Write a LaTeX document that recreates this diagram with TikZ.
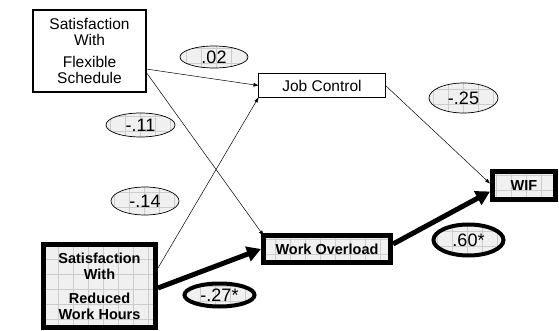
\documentclass[tikz,border=0pt]{standalone}
\usepackage{fontspec}
\setmainfont{Liberation Sans}
\usetikzlibrary{arrows.meta,shapes.geometric,calc}

\tikzset{
  gridfill/.style={fill=gray!12,
    path picture={\draw[gray!40,line width=0.4pt]
      ([xshift=-2pt,yshift=-2pt]path picture bounding box.south west) grid[step=15pt]
      ([xshift=2pt,yshift=2pt]path picture bounding box.north east);}},
  plainbox/.style={draw,line width=1.6pt,fill=white,inner sep=0pt,outer sep=0pt,align=center,font=\fontsize{15.5}{16}\selectfont},
  heavybox/.style={draw,line width=5pt,gridfill,inner sep=0pt,outer sep=0pt,align=center,font=\fontsize{14.5}{16}\selectfont\bfseries},
  coef/.style={ellipse,draw,line width=0.7pt,gridfill,inner sep=0pt,outer sep=0pt,font=\fontsize{18}{20}\selectfont},
  sigcoef/.style={coef,line width=4pt},
  thin path/.style={line width=0.5pt,-{Triangle[length=5pt,width=3.5pt]}},
  thick path/.style={line width=5pt,-{Triangle[length=14pt,width=15pt]}},
}

\begin{document}
\begin{tikzpicture}[x=1pt,y=-1pt]
\useasboundingbox (0,0) rectangle (559,331);

% variables
\node[plainbox,minimum width=113pt,minimum height=82pt] (flex) at (89.5,51)
  {Satisfaction\\With\\[6pt]Flexible\\Schedule};
\node[plainbox,minimum width=127pt,minimum height=24pt] (job) at (322,85.5) {Job Control};
\node[heavybox,minimum width=112pt,minimum height=83pt] (red) at (99.5,286)
  {Satisfaction\\With\\[8pt]Reduced\\Work Hours};
\node[heavybox,minimum width=127pt,minimum height=27pt] (wo) at (327,249) {Work Overload};
\node[heavybox,minimum width=63pt,minimum height=28pt] (wif) at (524,185.5) {WIF};

% path coefficients
\node[coef,minimum width=68pt,minimum height=22pt] (c02) at (214,57) {.02};
\node[coef,minimum width=69pt,minimum height=24pt] (c11) at (140.5,125) {-.11};
\node[coef,minimum width=68pt,minimum height=28pt] (c14) at (145,201) {-.14};
\node[coef,minimum width=69pt,minimum height=30pt] (c25) at (463.5,98) {-.25};
\node[sigcoef,minimum width=70pt,minimum height=31pt] (c60) at (468.5,240) {.60*};
\node[sigcoef,minimum width=70pt,minimum height=23pt] (c27) at (219.5,295) {-.27*};

% paths
\draw[thin path] ($(flex.east)+(0,18)$) -- (job.west);
\draw[thin path] ($(flex.east)+(0,21)$) -- (wo.north west);
\draw[thin path] ($(red.east)+(2.5,-18)$) -- (job.south west);
\draw[thin path] (job.east) -- ($(wif.west)+(-2.5,-2)$);
\draw[thick path] ($(red.east)+(2.5,2)$) -- ($(wo.west)+(-2.5,0)$);
\draw[thick path] ($(wo.east)+(2.5,-5)$) -- ($(wif.west)+(-2.5,6)$);
\end{tikzpicture}
\end{document}
